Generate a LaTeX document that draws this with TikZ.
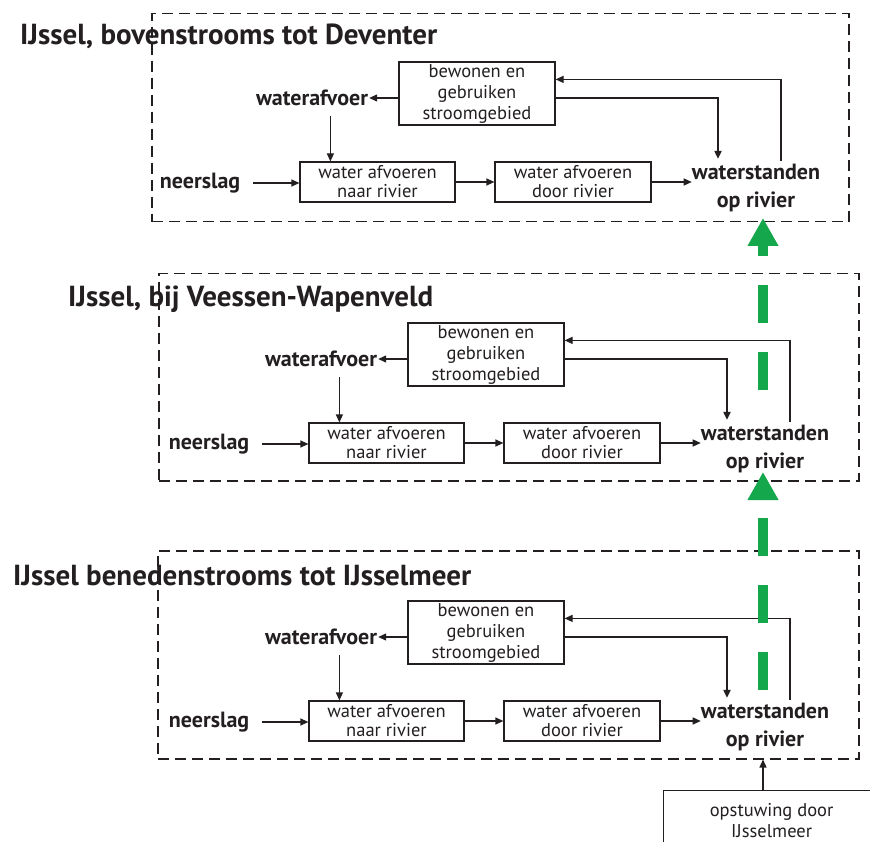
\documentclass[tikz,border=0pt]{standalone}
\usepackage{fontspec}
\setmainfont{PT Sans}
\usetikzlibrary{arrows.meta,calc}
\definecolor{ink}{HTML}{231F20}
\definecolor{grn}{RGB}{20,167,75}
\tikzset{
  frame/.style={draw=ink,line width=1.5pt,dash pattern=on 11pt off 6pt,inner sep=0pt,anchor=north west},
  box/.style={draw=ink,line width=1.2pt,inner sep=0pt,align=center,text=ink,font=\fontsize{18.5}{21}\selectfont},
  lbl/.style={inner sep=0pt,text=ink,align=center,font=\bfseries\fontsize{22}{28}\selectfont},
  ttl/.style={inner sep=0pt,anchor=base west,text=ink,font=\bfseries\fontsize{29}{30}\selectfont},
  arr/.style={draw=ink,line width=1.2pt,-{Triangle[length=8pt,width=7pt]}},
  garr/.style={draw=grn,line width=10pt,dash pattern=on 38pt off 29pt,-{Triangle[length=28pt,width=29pt]}},
}
\newcommand\panelbody{%
  \node[box,minimum width=156pt,minimum height=63pt] (bew) at (486,632.5) {bewonen en\\gebruiken\\stroomgebied};
  \node[box,minimum width=155pt,minimum height=40pt,font=\fontsize{18.5}{19}\selectfont] (naar) at (386.5,721) {water afvoeren\\naar rivier};
  \node[box,minimum width=156pt,minimum height=40pt,font=\fontsize{18.5}{19}\selectfont] (door) at (582,721) {water afvoeren\\door rivier};
  \node[lbl] (wa) at (321,637) {waterafvoer};
  \node[lbl] (ns) at (209,722) {neerslag};
  \node[lbl] (ws) at (765,727) {waterstanden\\op rivier};
  \coordinate (wad) at ($(naar.north west)+(31,0)$);
  \draw[arr] (bew.west |- wa) -- ($(wa.east)+(1,0)$);
  \draw[arr] ($(wad |- wa.south)+(0,10)$) -- (wad);
  \draw[arr] ($(ns.east)+(13,0)$) -- (ns -| naar.west);
  \draw[arr] (naar.east) -- (door.west);
  \draw[arr] (door.east) -- (door.east -| ws.west);
  \draw[arr] ($(ws.north)+(25,-3)$) |- ($(bew.north east)+(0,18)$);
  \draw[arr,line width=1.8pt] ($(bew.east)+(0,4.5)$) -| ($(ws.north)+(-38,-5)$);
}
\begin{document}
\begin{tikzpicture}[x=1pt,y=-1pt]
\clip (0,0) rectangle (870,842);
\fill[white] (0,0) rectangle (870,842);
% frames
\node[frame,minimum width=697pt,minimum height=208pt] (tframe) at (151,13) {};
\node[frame,minimum width=700pt,minimum height=207pt] (mframe) at (158,273) {};
\node[frame,minimum width=701pt,minimum height=208pt] (bframe) at (157,550) {};
% titles
\node[ttl] (t1) at (20,45) {IJssel, bovenstrooms tot Deventer};
\node[ttl] (t2) at (68,307) {IJssel, bij Veessen-Wapenveld};
\node[ttl] (t3) at (13,585) {IJssel benedenstrooms tot IJsselmeer};
% panels
\begin{scope}[shift={(-9,-539)},name prefix=top-]
  \panelbody
\end{scope}
\begin{scope}[shift={(0,-278)},name prefix=mid-]
  \panelbody
\end{scope}
\begin{scope}[name prefix=bot-]
  \panelbody
\end{scope}
% opstuwing
\node[box,minimum width=216pt,minimum height=60pt,anchor=north west] (op) at (663,790) {opstuwing door\\IJsselmeer};
\coordinate (opsrc) at ($(op.north west)+(100,0)$);
\draw[arr] (opsrc) -- (opsrc |- bframe.south);
% green arrows
\coordinate (g1s) at (763,390);
\coordinate (g1e) at (763,218);
\coordinate (g2s) at (763,690);
\coordinate (g2e) at (763,472);
\draw[garr] (g1s) -- (g1e);
\draw[garr] (g2s) -- (g2e);
\end{tikzpicture}
\end{document}
